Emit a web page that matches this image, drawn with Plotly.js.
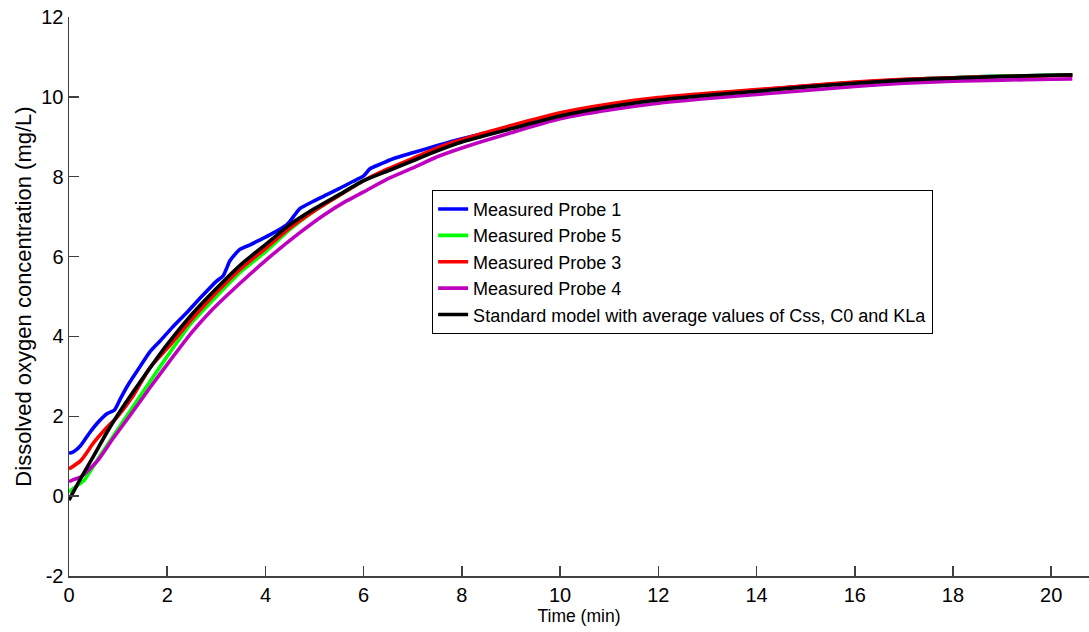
<!DOCTYPE html>
<html>
<head>
<meta charset="utf-8">
<script src="https://cdn.plot.ly/plotly-3.0.1.min.js"></script>
<style>html,body{margin:0;padding:0;background:#fff;}#chart{width:1089px;height:632px;}</style>
</head>
<body>
<div id="chart"></div>
<script>
// Probe 1 (blue)
const tProbe1 = [0,0.1,0.24,0.41,0.57,0.78,0.92,1.05,1.22,1.45,1.65,1.85,2.1,2.4,2.7,3.0,3.14,3.28,3.48,3.7,3.89,4.1,4.44,4.6,4.7,5.0,5.25,5.5,5.78,6.0,6.13,6.35,6.6,7.0,7.5,8,9,10,11,12,13,14,15,16,17,18,19,20,20.43];
const vProbe1 = [1.07,1.12,1.27,1.57,1.82,2.07,2.15,2.45,2.82,3.25,3.62,3.88,4.22,4.6,5.0,5.38,5.52,5.9,6.18,6.3,6.42,6.55,6.8,7.05,7.2,7.4,7.55,7.7,7.88,8.02,8.2,8.32,8.45,8.6,8.78,8.95,9.25,9.56,9.78,9.95,10.07,10.17,10.27,10.36,10.43,10.48,10.52,10.54,10.55];
// Probe 5 (green)
const tProbe5 = [0,0.15,0.31,0.6,0.9,1.2,1.5,1.71,2,2.5,2.73,3,3.5,4,4.5,5,5.5,6,6.5,7,7.5,8,9,10,11,12,13,14,15,16,17,18,19,20,20.43];
const vProbe5 = [0.1,0.25,0.4,0.95,1.5,2.05,2.6,2.98,3.5,4.35,4.65,5.0,5.62,6.12,6.68,7.15,7.53,7.9,8.18,8.44,8.68,8.88,9.22,9.53,9.76,9.93,10.05,10.15,10.26,10.35,10.43,10.48,10.52,10.54,10.55];
// Probe 3 (red)
const tProbe3 = [0,0.24,0.51,0.78,0.98,1.3,1.65,2,2.5,3,3.5,4,4.5,5,5.5,6,6.5,7,7.5,8,9,10,11,12,13,14,15,16,17,18,19,20,20.43];
const vProbe3 = [0.68,0.89,1.35,1.73,1.98,2.5,3.22,3.7,4.43,5.1,5.7,6.2,6.72,7.15,7.53,7.9,8.2,8.46,8.72,8.93,9.28,9.6,9.82,9.98,10.09,10.18,10.28,10.37,10.44,10.48,10.51,10.53,10.54];
// Probe 4 (purple)
const tProbe4 = [0,0.1,0.24,0.57,0.9,1.26,1.65,2,2.5,2.9,3.5,4,4.7,5.2,5.66,6,6.5,7,7.5,8,9,10,11,12,13,14,15,16,17,18,19,20,20.43];
const vProbe4 = [0.36,0.42,0.48,0.87,1.45,2.05,2.72,3.3,4.1,4.65,5.35,5.9,6.6,7.05,7.4,7.62,7.95,8.22,8.5,8.72,9.1,9.45,9.67,9.84,9.96,10.06,10.16,10.26,10.34,10.39,10.42,10.44,10.45];
// Standard model (black)
const tModel = [0,0.25,0.5,0.75,1,1.5,2,2.5,3,3.5,4,4.5,5,5.5,6,6.5,7,7.5,8,9,10,11,12,13,14,15,16,17,18,19,20,20.43];
const vModel = [-0.1,0.47,1.0,1.55,2.05,2.95,3.8,4.55,5.2,5.8,6.3,6.8,7.2,7.55,7.9,8.15,8.4,8.65,8.87,9.2,9.52,9.75,9.92,10.04,10.14,10.25,10.34,10.42,10.47,10.51,10.54,10.55];

const seriesNames = ["Measured Probe 1","Measured Probe 5","Measured Probe 3","Measured Probe 4","Standard model with average values of Css, C0 and KLa"];
const seriesColors = ["#0000FF","#00FF00","#FF0000","#BF00BF","#000000"];
const xs = [tProbe1,tProbe5,tProbe3,tProbe4,tModel];
const ys = [vProbe1,vProbe5,vProbe3,vProbe4,vModel];

const xTicks = [0,2,4,6,8,10,12,14,16,18,20];
const yTicks = [-2,0,2,4,6,8,10,12];

const traces = seriesNames.map((n,i)=>({
  x: xs[i], y: ys[i], name: n, type: 'scatter', mode: 'lines',
  line: {color: seriesColors[i], width: 3.6, shape: 'spline', smoothing: 0.6}
}));

const font = 'Arial, "Liberation Sans", sans-serif';
const layout = {
  width: 1089, height: 632,
  margin: {l: 69, r: 0, t: 17, b: 56, pad: 0},
  paper_bgcolor: '#fff', plot_bgcolor: '#fff',
  font: {family: font, color: '#000'},
  showlegend: true,
  legend: {
    x: 0.356, y: 0.691, xanchor: 'left', yanchor: 'top',
    bordercolor: '#000', borderwidth: 1, bgcolor: '#fff',
    font: {family: font, size: 18, color: '#000'},
    tracegroupgap: 0
  },
  xaxis: {
    range: [0, 20.77], tickvals: xTicks, ticktext: xTicks.map(String),
    showline: true, linecolor: '#404040', linewidth: 1.5,
    ticks: 'inside', ticklen: 10, tickwidth: 1.5, tickcolor: '#404040',
    showgrid: false, zeroline: false,
    tickfont: {family: font, size: 20, color: '#000'},
    title: {text: 'Time (min)', font: {family: font, size: 17.5, color: '#000'}, standoff: 2}
  },
  yaxis: {
    range: [-2, 12], tickvals: yTicks, ticktext: yTicks.map(String),
    showline: true, linecolor: '#404040', linewidth: 1.5,
    ticks: 'inside', ticklen: 10, tickwidth: 1.5, tickcolor: '#404040',
    showgrid: false, zeroline: false,
    tickfont: {family: font, size: 20, color: '#000'},
    title: {text: 'Dissolved oxygen concentration (mg/L)', font: {family: font, size: 22, color: '#000'}, standoff: 3}
  }
};

Plotly.newPlot('chart', traces, layout, {displayModeBar: false, staticPlot: true});
</script>
</body>
</html>
